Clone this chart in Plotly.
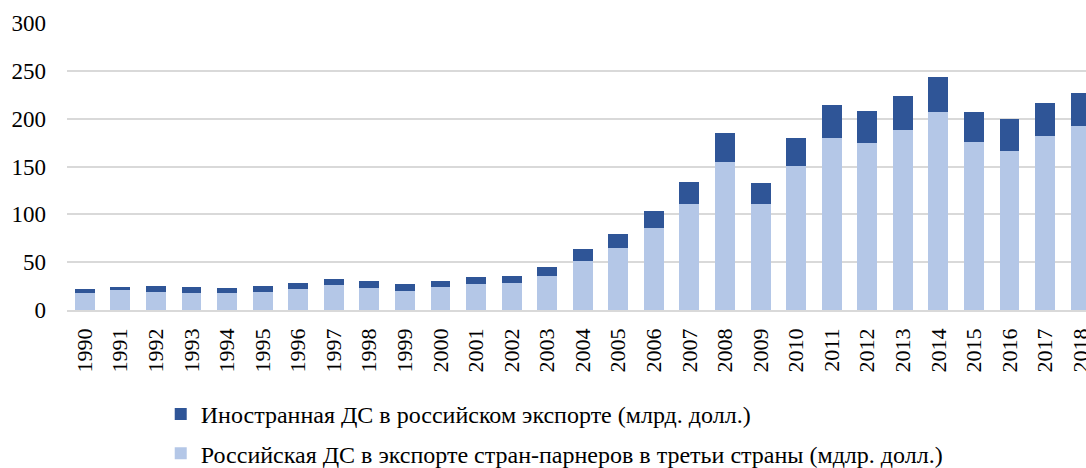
import plotly.graph_objects as go

years = [str(y) for y in range(1990, 2019)]
russian_vc = [17.5, 20.9, 18.8, 17.8, 17.8, 18.8, 22.0, 26.1, 22.6, 19.9,
              23.7, 26.8, 27.9, 35.5, 51.5, 65.1, 85.7, 111.1, 155.0, 110.5,
              150.2, 179.4, 174.2, 187.8, 207.0, 175.6, 166.2, 181.9, 192.3]
foreign_vc = [4.1, 3.5, 6.6, 5.9, 5.2, 6.6, 5.9, 6.6, 7.7, 7.3,
              6.9, 7.7, 7.3, 9.4, 12.6, 14.0, 18.1, 22.7, 29.7, 22.6,
              29.2, 34.9, 34.1, 35.6, 36.2, 31.0, 33.8, 34.1, 34.5]

name_foreign = "Иностранная ДС в российском экспорте (млрд. долл.)"
name_russian = "Российская ДС в экспорте стран-парнеров в третьи страны (мдлр. долл.)"

fig = go.Figure()
fig.add_trace(go.Bar(x=years, y=russian_vc, name=name_russian,
                     marker=dict(color="#B4C7E7", line=dict(width=0)),
                     legendgroup="b", legendrank=2))
fig.add_trace(go.Bar(x=years, y=foreign_vc, name=name_foreign,
                     marker=dict(color="#2F5597", line=dict(width=0)),
                     legendgroup="a", legendrank=1))

font_family = "Liberation Serif, 'Times New Roman', Times, serif"
fig.update_layout(
    width=1086, height=468,
    barmode="stack", bargap=0.44,
    plot_bgcolor="white", paper_bgcolor="white",
    margin=dict(l=67, r=0, t=23, b=158, autoexpand=False),
    font=dict(family=font_family, size=22, color="black"),
    showlegend=True,
    legend=dict(orientation="v", xref="container", yref="container",
                x=0.148, y=1 - 392 / 468, xanchor="left", yanchor="top",
                traceorder="grouped", tracegroupgap=5,
                font=dict(family=font_family, size=24, color="black"),
                itemwidth=30),
)
fig.update_xaxes(range=[-0.5, 28.15], tickangle=-90, showgrid=False,
                 tickmode="array", tickvals=years, ticktext=years,
                 showline=True, linecolor="#D9D9D9", linewidth=1.5,
                 ticks="outside", ticklen=8, tickcolor="rgba(0,0,0,0)",
                 tickfont=dict(family=font_family, size=22))
fig.update_yaxes(range=[0, 300], dtick=50, showgrid=True, gridcolor="#D9D9D9",
                 gridwidth=1.5, zeroline=False, showline=False,
                 ticklabelstandoff=20,
                 tickfont=dict(family=font_family, size=23))

fig.write_html("out.html", post_script="document.body.style.margin='0';",
               config={"displayModeBar": False})
